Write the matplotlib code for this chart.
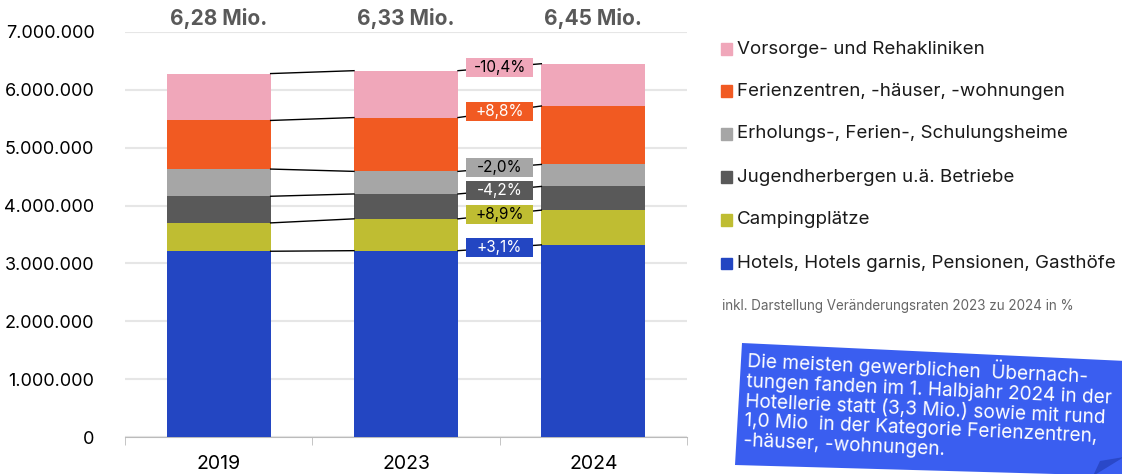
import matplotlib
matplotlib.use("Agg")
import matplotlib.pyplot as plt
from matplotlib.patches import Polygon, Rectangle
from matplotlib.ticker import FuncFormatter

plt.rcParams['font.family'] = ['Inter', 'DejaVu Sans']

# Daten (Übernachtungen, 1. Halbjahr)
years = ['2019', '2023', '2024']
categories = ['Hotels, Hotels garnis, Pensionen, Gasthöfe',
              'Campingplätze',
              'Jugendherbergen u.ä. Betriebe',
              'Erholungs-, Ferien-, Schulungsheime',
              'Ferienzentren, -häuser, -wohnungen',
              'Vorsorge- und Rehakliniken']
hotels = [3210000, 3220000, 3320000]
camping = [490000, 550000, 600000]
jugend = [460000, 430000, 410000]
erholung = [470000, 390000, 380000]
ferien = [840000, 930000, 1010000]
vorsorge = [810000, 810000, 730000]
changes = ['+3,1%', '+8,9%', '-4,2%', '-2,0%', '+8,8%', '-10,4%']
totals = ['6,28 Mio.', '6,33 Mio.', '6,45 Mio.']

colors = ['#2346c2', '#bfbd32', '#595959', '#a6a6a6', '#f15a22', '#f0a7ba']
text_colors = ['white', 'black', 'white', 'black', 'white', 'black']
series = [hotels, camping, jugend, erholung, ferien, vorsorge]

fig = plt.figure(figsize=(11.22, 4.74), dpi=100)
ax = fig.add_axes([0.1114, 0.078, 0.5009, 0.8547])

x = list(range(len(years)))
w = 0.555
bottom = [0, 0, 0]
tops = []
for vals, col in zip(series, colors):
    ax.bar(x, vals, w, bottom=bottom, color=col, zorder=3)
    bottom = [b + v for b, v in zip(bottom, vals)]
    tops.append(bottom)

# Verbindungslinien und Veränderungsraten
bw, bh = 0.358, 330000
for i, top in enumerate(tops):
    ax.plot([0 + w/2, 1 - w/2], [top[0], top[1]], color='black', lw=1, zorder=4)
    ax.plot([1 + w/2, 2 - w/2], [top[1], top[2]], color='black', lw=1, zorder=4)
    ym = (top[1] + top[2]) / 2
    ax.add_patch(Rectangle((1.5 - bw/2, ym - bh/2), bw, bh, fc=colors[i], ec='none', zorder=5))
    ax.text(1.5, ym, changes[i], ha='center', va='center',
            fontsize=11, color=text_colors[i], zorder=6)

# Summen oben
for xi, t in zip(x, totals):
    ax.text(xi, 7230000, t, ha='center', va='center', fontsize=15,
            fontweight='bold', color='#595959', clip_on=False)

ax.set_xlim(-0.5, 2.5)
ax.set_ylim(0, 7000000)
ax.set_yticks(range(0, 7000001, 1000000))
ax.yaxis.set_major_formatter(FuncFormatter(lambda v, p: f'{int(v):,}'.replace(',', '.')))
ax.grid(axis='y', color='#e6e6e6', lw=1.5, zorder=0)
ax.set_xticks(x)
ax.set_xticklabels(years)
ax.set_xticks([-0.5, 0.5, 1.5, 2.5], minor=True)
ax.tick_params(axis='x', which='major', length=0, labelsize=14, pad=13)
ax.tick_params(axis='x', which='minor', length=6, color='#bbbbbb')
ax.tick_params(axis='y', length=0, labelsize=13, pad=22)
for s in ['top', 'right', 'left']:
    ax.spines[s].set_visible(False)
ax.spines['bottom'].set_color('#bbbbbb')

# Legende
W, H = 1122.0, 474.0
leg_y = [263, 220, 177, 134, 91, 49]
for cat, col, yy in zip(categories, colors, leg_y):
    fig.patches.append(Rectangle((721 / W, 1 - (yy + 5.5) / H), 11 / W, 11 / H,
                                 transform=fig.transFigure, color=col))
    fig.text(737 / W, 1 - yy / H, cat, fontsize=13.5, va='center', color='#1a1a1a')
fig.text(722 / W, 1 - 306 / H, 'inkl. Darstellung Veränderungsraten 2023 zu 2024 in %',
         fontsize=9.7, va='center', color='#666666')

# Hinweisbox
box = [(742, 343), (1126, 361), (1126, 476), (735, 465)]
fig.patches.append(Polygon([(px / W, 1 - py / H) for px, py in box], closed=True,
                           transform=fig.transFigure, fc='#3a5ef0', ec='none'))
curl = [(1093, 476), (1100, 461), (1124, 457)]
fig.patches.append(Polygon([(px / W, 1 - py / H) for px, py in curl], closed=True,
                           transform=fig.transFigure, fc='#2a48c8', ec='none'))
note = ('Die meisten gewerblichen  Übernach-\n'
        'tungen fanden im 1. Halbjahr 2024 in der\n'
        'Hotellerie statt (3,3 Mio.) sowie mit rund\n'
        '1,0 Mio  in der Kategorie Ferienzentren,\n'
        '-häuser, -wohnungen.')
fig.text(748 / W, 1 - 348 / H, note, fontsize=13.7, color='white', ha='left', va='top',
         rotation=-2.6, rotation_mode='anchor', linespacing=1.13)

fig.savefig('out.png', dpi=100)
